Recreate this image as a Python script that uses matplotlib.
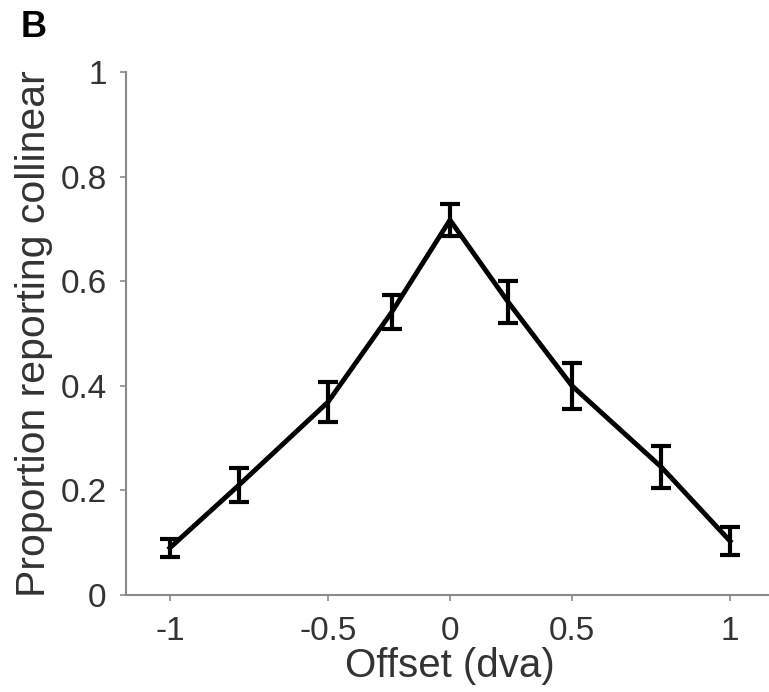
import numpy as np
import matplotlib
matplotlib.use('Agg')
import matplotlib.pyplot as plt

# offsets (dva) and proportion reporting collinear
offset = [-1, -0.79, -0.5, -0.27, 0, 0.27, 0.5, 0.79, 1]
prop = [0.090, 0.210, 0.369, 0.541, 0.717, 0.560, 0.400, 0.245, 0.103]
err = [0.017, 0.033, 0.038, 0.032, 0.030, 0.040, 0.044, 0.040, 0.027]

xticks = [-1, -0.5, 0, 0.5, 1]
xticklabels = ['-1', '-0.5', '0', '0.5', '1']
yticks = [0, 0.2, 0.4, 0.6, 0.8, 1]
yticklabels = ['0', '0.2', '0.4', '0.6', '0.8', '1']

plt.rcParams['font.family'] = ['Liberation Sans', 'DejaVu Sans']
txt = '#333333'
grey = '#8a8a8a'

# the axis in the original is slightly stretched away from zero
p = 1.2
fwd = lambda x: np.sign(x) * np.abs(x) ** p
inv = lambda y: np.sign(y) * np.abs(y) ** (1 / p)

fig = plt.figure(figsize=(7.69, 6.92), dpi=100)
ax = fig.add_axes([0.1638, 0.1402, 0.8427, 0.7558])
ax.set_xscale('function', functions=(fwd, inv))

ax.errorbar(offset, prop, yerr=err, color='black', lw=3.5, elinewidth=3,
            capsize=7, capthick=3, zorder=3)

ax.set_xlim(-1.129, 1.129)
ax.set_ylim(0, 1)
ax.set_xticks(xticks)
ax.set_xticklabels(xticklabels)
ax.set_yticks(yticks)
ax.set_yticklabels(yticklabels)
ax.minorticks_off()

for s in ['top', 'right']:
    ax.spines[s].set_visible(False)
for s in ['left', 'bottom']:
    ax.spines[s].set_color(grey)
    ax.spines[s].set_linewidth(1.5)

ax.tick_params(axis='both', direction='out', length=4, width=1.2, color=grey,
               labelsize=24, labelcolor=txt)
ax.tick_params(axis='x', pad=11)
ax.tick_params(axis='y', pad=10)

ax.set_xlabel('Offset (dva)', fontsize=29, color=txt, labelpad=0)
ax.set_ylabel('Proportion reporting collinear', fontsize=29.5, color=txt)
ax.yaxis.set_label_coords(-0.113, 0.5)

fig.text(0.027, 0.9465, 'B', fontsize=26, fontweight='bold', color='black')

fig.savefig('out.png', dpi=100)
